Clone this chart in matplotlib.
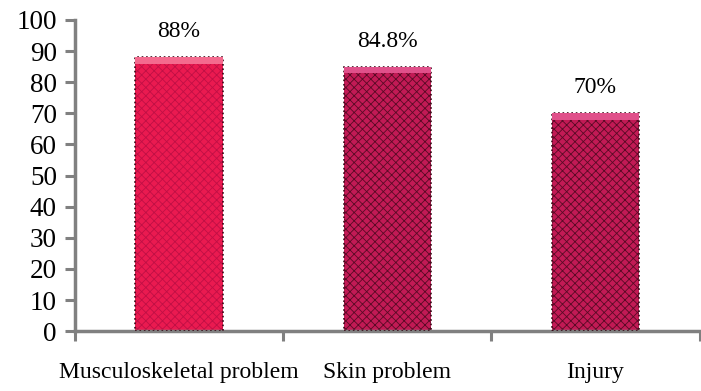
import numpy as np
import matplotlib.pyplot as plt

plt.rcParams['font.family'] = 'Liberation Serif'
plt.rcParams['hatch.linewidth'] = 0.6

#%% Data
categories = ['Musculoskeletal problem', 'Skin problem', 'Injury']
values = [88, 84.8, 70]
labels = ['88%', '84.8%', '70%']
face_colors = ['#ea1a50', '#c21a55', '#c21a55']
top_colors = ['#f46a8e', '#e0508a', '#e0508a']
hatch_colors = ['#c01045', '#5a0a25', '#5a0a25']

#%% Plot
fig = plt.figure(figsize=(7.01, 3.91), dpi=100)
ax = fig.add_axes([0.107, 0.153, 0.891, 0.796])

x = np.arange(len(categories))
w = 0.42
for i in range(len(categories)):
    ax.bar(x[i], values[i], width=w, color=face_colors[i], hatch='xxxx',
           edgecolor=hatch_colors[i], linewidth=0, zorder=2)
    ax.bar(x[i], values[i], width=w, fill=False, edgecolor='#3a0a18',
           linewidth=1.2, linestyle=':', zorder=3)
    ax.bar(x[i], 2, bottom=values[i] - 2, width=w, color=top_colors[i],
           linewidth=0, zorder=4)
    ax.text(x[i], values[i] + 5, labels[i], ha='center', va='bottom', fontsize=17)

ax.set_xlim(-0.5, 2.5)
ax.set_ylim(0, 100)
ax.set_yticks(np.arange(0, 101, 10))
ax.set_xticks([-0.5, 0.5, 1.5, 2.5])
ax.set_xticklabels([])
ax.set_xticks(x, minor=True)
ax.set_xticklabels(categories, minor=True)
ax.tick_params(axis='x', which='minor', length=0, pad=22, labelsize=17)
ax.tick_params(axis='x', which='major', length=7, width=2.2, color='#808080')
ax.tick_params(axis='y', length=7, width=2.2, color='#808080', labelsize=19.5, pad=6)

for s in ['top', 'right']:
    ax.spines[s].set_visible(False)
for s in ['left', 'bottom']:
    ax.spines[s].set_color('#808080')
    ax.spines[s].set_linewidth(2.5)

plt.savefig('out.png', dpi=100)
